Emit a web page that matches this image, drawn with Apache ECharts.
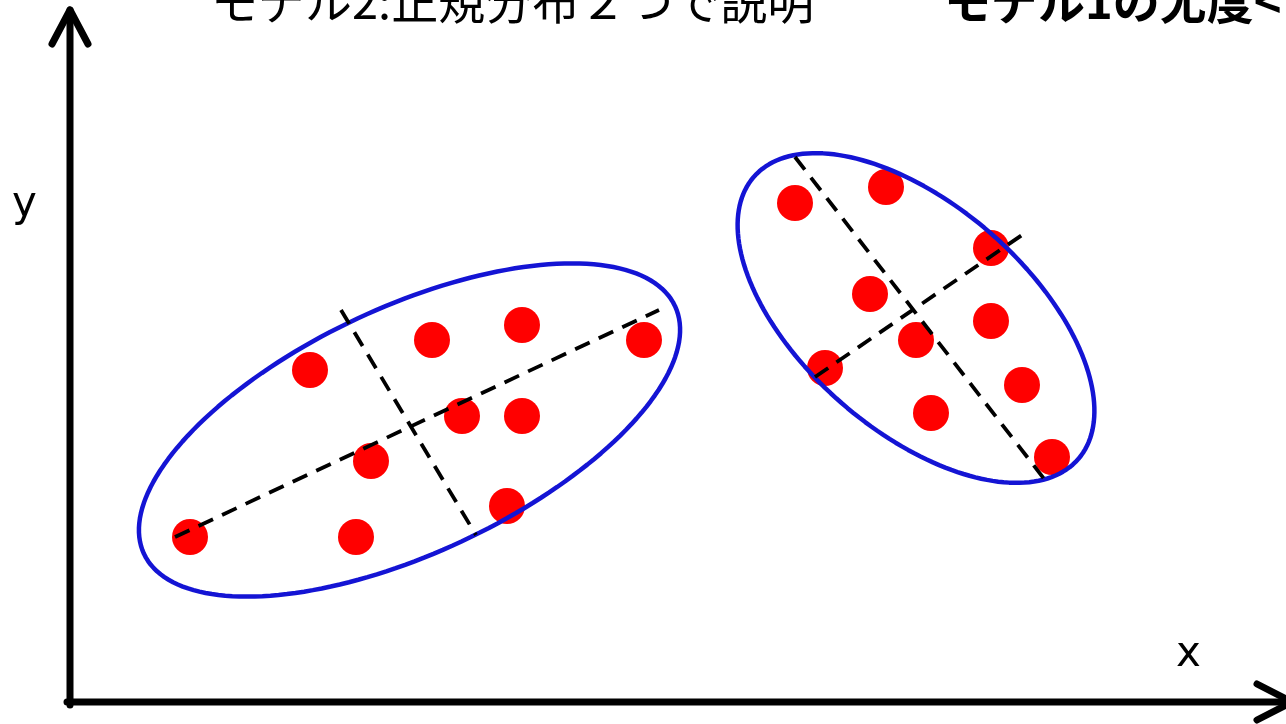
<!DOCTYPE html>
<html>
<head>
<meta charset="utf-8">
<script src="https://cdn.jsdelivr.net/npm/echarts@6/dist/echarts.min.js"></script>
<style>
  html, body { margin: 0; padding: 0; background: #fff; }
  #chart { width: 1286px; height: 724px; }
</style>
</head>
<body>
<div id="chart"></div>
<script>
// points of cluster A (left) and cluster B (right), origin at the axes corner
const clusterA = [
  [120, 165], [240, 332], [362, 362], [452, 377], [574, 362],
  [392, 286], [452, 286], [301, 241], [286, 165], [437, 196]
];
const clusterB = [
  [725, 499], [816, 515], [921, 454], [800, 408], [921, 381],
  [846, 362], [755, 334], [952, 317], [861, 289], [982, 245]
];
// dashed principal-axis lines [start, end]
const axesA = [[[105, 165], [589, 392]], [[271, 392], [406, 167]]];
const axesB = [[[725, 545], [975, 222]], [[745, 325], [952, 467]]];
// ellipses: center, semi-major, semi-minor, angle (deg)
const ellipseCenters = [[339.5, 272], [846, 384]];
const ellipseRadii = [[293, 123], [215, 113]];
const ellipseAngles = [25, -41];
// coordinate axes with open arrow heads
const yAxisShaft = [[0, -3], [0, 692]];
const yArrowHead = [[-18, 658], [0, 692], [18, 658]];
const xAxisShaft = [[-3, 0], [1222, 0]];
const xArrowHead = [[1187, 18], [1222, 0], [1187, -18]];

const titleLeft = 'モデル2:正規分布２つで説明';
const titleRight = 'モデル1の尤度<モデル2の尤度';

const ellipsePoints = (c, r, deg) => {
  const pts = [];
  const t = deg * Math.PI / 180;
  for (let i = 0; i <= 180; i++) {
    const a = i / 180 * Math.PI * 2;
    const u = r[0] * Math.cos(a), v = r[1] * Math.sin(a);
    pts.push([c[0] + u * Math.cos(t) - v * Math.sin(t), c[1] + u * Math.sin(t) + v * Math.cos(t)]);
  }
  return pts;
};

const chart = echarts.init(document.getElementById('chart'));

const blackLine = (data, w) => ({
  type: 'line', data: data, symbol: 'none', silent: true, z: 5,
  lineStyle: { color: '#000', width: w, cap: 'round', join: 'round' }
});

const dashed = [...axesA, ...axesB].map(seg => ({
  type: 'line', data: seg, symbol: 'none', silent: true, z: 4,
  lineStyle: { color: '#000', width: 3.8, type: [16, 10] }
}));

const ellipses = ellipseCenters.map((c, i) => ({
  type: 'line', data: ellipsePoints(c, ellipseRadii[i], ellipseAngles[i]),
  symbol: 'none', silent: true, z: 3, smooth: false,
  lineStyle: { color: '#1414d4', width: 4.5 }
}));

const option = {
  animation: false,
  backgroundColor: '#fff',
  grid: { left: 0, right: 0, top: 0, bottom: 0 },
  xAxis: { type: 'value', min: -70, max: 1216, show: false },
  yAxis: { type: 'value', min: -22, max: 702, show: false },
  series: [
    {
      type: 'scatter', data: [...clusterA, ...clusterB], symbol: 'circle',
      symbolSize: 36, z: 2, silent: true,
      itemStyle: { color: '#ff0000', opacity: 1 }
    },
    ...ellipses,
    ...dashed,
    blackLine(yAxisShaft, 7),
    blackLine(yArrowHead, 7),
    blackLine(xAxisShaft, 7),
    blackLine(xArrowHead, 7)
  ],
  graphic: [
    { type: 'text', left: 211, top: -22, z: 10,
      style: { text: titleLeft, font: '47px "Noto Sans CJK JP"', fill: '#000' } },
    { type: 'text', left: 944, top: -22, z: 10,
      style: { text: titleRight, font: 'bold 47px "Noto Sans CJK JP"', fill: '#000' } },
    { type: 'text', left: 12, top: 184, z: 10,
      style: { text: 'y', font: '42px "DejaVu Sans"', fill: '#000' } },
    { type: 'text', left: 1176, top: 634, z: 10,
      style: { text: 'x', font: '42px "DejaVu Sans"', fill: '#000' } }
  ]
};
chart.setOption(option);
</script>
</body>
</html>
